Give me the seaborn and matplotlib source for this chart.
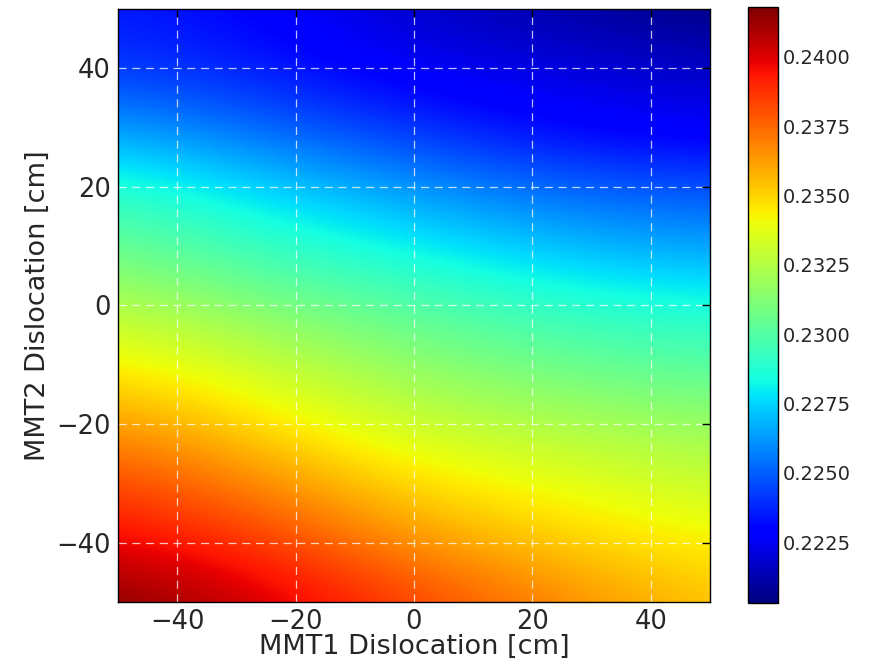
import numpy as np
import pandas as pd
import matplotlib
matplotlib.use("Agg")
import matplotlib.pyplot as plt
import seaborn as sns

# Grid positions (cm) of the sampled values
mmt1_positions = [-50, -25, 0, 25, 50]
mmt2_positions = [50, 40, 30, 20, 10, 0, -10, -20, -30, -40, -50]   # top row first

# Values, one list per MMT2 row (top to bottom)
row_p50 = [0.22353, 0.22288, 0.22170, 0.22105, 0.22030]
row_p40 = [0.22417, 0.22353, 0.22245, 0.22213, 0.22159]
row_p30 = [0.22632, 0.22503, 0.22396, 0.22288, 0.22245]
row_p20 = [0.22890, 0.22740, 0.22611, 0.22503, 0.22460]
row_p10 = [0.23062, 0.22912, 0.22804, 0.22697, 0.22632]
row_000 = [0.23256, 0.23105, 0.22998, 0.22890, 0.22847]
row_m10 = [0.23449, 0.23299, 0.23148, 0.23062, 0.22998]
row_m20 = [0.23643, 0.23471, 0.23299, 0.23234, 0.23170]
row_m30 = [0.23836, 0.23664, 0.23471, 0.23385, 0.23299]
row_m40 = [0.23987, 0.23858, 0.23643, 0.23514, 0.23428]
row_m50 = [0.24180, 0.24030, 0.23836, 0.23686, 0.23535]

tick_vals = [-40, -20, 0, 20, 40]
cbar_ticks = [0.2225, 0.2250, 0.2275, 0.2300, 0.2325, 0.2350, 0.2375, 0.2400]

df = pd.DataFrame([row_p50, row_p40, row_p30, row_p20, row_p10, row_000,
                   row_m10, row_m20, row_m30, row_m40, row_m50],
                  index=mmt2_positions, columns=mmt1_positions)

sns.set_style("white")
plt.rcParams.update({
    "font.family": ["DejaVu Sans"],
    "xtick.direction": "in",
    "ytick.direction": "in",
    "xtick.top": True,
    "ytick.right": True,
    "axes.edgecolor": "black",
    "axes.linewidth": 1.0,
})

fig = plt.figure(figsize=(8.76, 6.70), dpi=100)
ax = fig.add_axes([0.1347, 0.1015, 0.6758, 0.8851])
cax = fig.add_axes([0.8539, 0.1, 0.0342, 0.8896])

cmap = matplotlib.colormaps["jet"]
hx = abs(mmt1_positions[1] - mmt1_positions[0]) / 2
hy = abs(mmt2_positions[1] - mmt2_positions[0]) / 2
extent = (min(mmt1_positions) - hx, max(mmt1_positions) + hx,
          min(mmt2_positions) - hy, max(mmt2_positions) + hy)
im = ax.imshow(df.values, cmap=cmap, extent=extent, origin="upper",
               interpolation="bicubic", aspect="auto",
               vmin=df.values.min(), vmax=df.values.max())
ax.set_xlim(-50, 50)
ax.set_ylim(-50, 50)
ax.set_xticks(tick_vals)
ax.set_yticks(tick_vals)
ax.tick_params(labelsize=18.5, length=6, width=1, color="black", pad=5)
ax.grid(True, color="white", linestyle=(0, (6.5, 4.5)), linewidth=0.9, alpha=0.75)
ax.set_xlabel("MMT1 Dislocation [cm]", fontsize=19.5, labelpad=-1)
ax.set_ylabel("MMT2 Dislocation [cm]", fontsize=19.5, labelpad=4)
for s in ax.spines.values():
    s.set_visible(True)

cb = fig.colorbar(im, cax=cax, ticks=cbar_ticks, format="%.4f")
cb.ax.tick_params(labelsize=14, direction="in", length=5, right=True)
cb.outline.set_linewidth(1.0)

fig.savefig("out.png", dpi=100)
